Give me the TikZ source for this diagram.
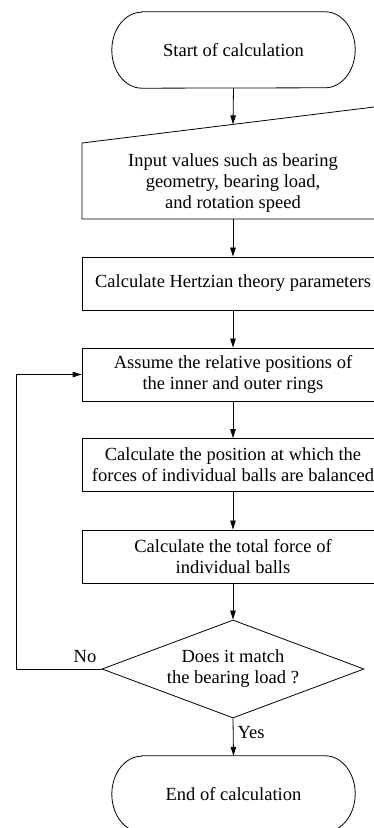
\documentclass[tikz,border=0pt]{standalone}
\usepackage{fontspec}
\setmainfont{Liberation Serif}
\usetikzlibrary{arrows.meta,shapes.geometric}
\tikzset{
  every node/.style={font=\fontsize{18.5}{21}\selectfont, inner sep=0pt},
  conn/.style={line width=0.8pt, -{Triangle[length=9pt,width=5.5pt]}},
  line/.style={line width=0.8pt},
  procbox/.style={draw, line width=0.8pt, minimum width=302pt, minimum height=53pt, align=center},
  termbox/.style={minimum width=243pt, minimum height=76pt},
  decbox/.style={draw, line width=0.8pt, diamond, aspect=2.67, minimum width=262pt, minimum height=98pt, align=center},
  lbl/.style={font=\fontsize{18.5}{21}\selectfont}
}
\newcommand{\termoutline}[1]{%
  \draw[line] ([xshift=30pt]#1.north west) -- ([xshift=-30pt]#1.north east)
    arc[start angle=90, end angle=-90, x radius=30pt, y radius=38pt]
    -- ([xshift=30pt]#1.south west)
    arc[start angle=270, end angle=90, x radius=30pt, y radius=38pt] -- cycle;}
\begin{document}
\begin{tikzpicture}[x=1pt, y=1pt]
\useasboundingbox (0,0) rectangle (374,828);
\clip (0,0) rectangle (374,828);
% nodes
\node[termbox] (start) at (233.5,778) {Start of calculation};
\node[align=center] (input) at (233,644.5) {Input values such as bearing\\geometry, bearing load,\\and rotation speed};
\coordinate (inputtop) at (233,703.6);
\coordinate (inputbot) at (233,609);
\node[procbox] (hertz) at (233,544.5) {Calculate Hertzian theory parameters};
\node[procbox] (assume) at (233,453.5) {Assume the relative positions of\\the inner and outer rings};
\node[procbox] (pos) at (233,363) {Calculate the position at which the\\forces of individual balls are balanced};
\node[procbox] (total) at (233,271.5) {Calculate the total force of\\individual balls};
\node[decbox] (dec) at (233,159) {Does it match\\the bearing load ?};
\node[termbox] (end) at (233.5,34) {End of calculation};
\coordinate (loopcorner) at (16,159);
% outlines
\termoutline{start}
\termoutline{end}
\draw[line] (82,685) -- (384,722.2) -- (384,609) -- (82,609) -- cycle;
% connectors
\draw[conn] (start.south) -- (inputtop);
\draw[conn] (inputbot) -- (hertz.north);
\draw[conn] (hertz.south) -- (assume.north);
\draw[conn] (assume.south) -- (pos.north);
\draw[conn] (pos.south) -- (total.north);
\draw[conn] (total.south) -- (dec.north);
\draw[conn] (dec.south) -- (end.north);
\draw[conn] (dec.west) -- (loopcorner) |- (assume.west);
% labels
\node[lbl] (nolbl) at (85,171) {No};
\node[lbl] (yeslbl) at (251,95) {Yes};
\end{tikzpicture}
\end{document}
